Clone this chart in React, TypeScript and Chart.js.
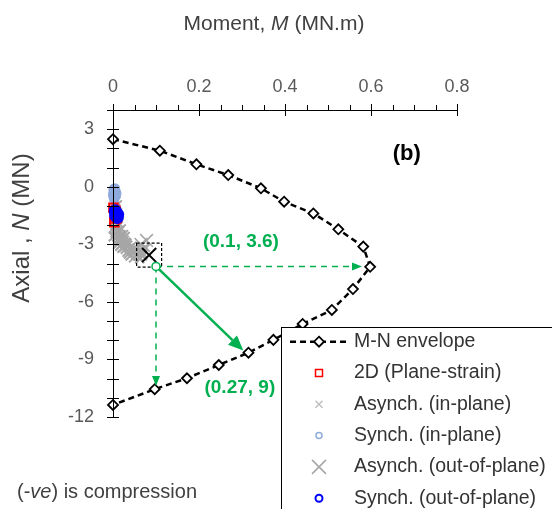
import React, { useEffect, useRef } from 'react';
import { Chart, registerables } from 'chart.js';
Chart.register(...registerables);

// ---- data ----
const envelopeM = [0, 0.109, 0.194, 0.268, 0.344, 0.398, 0.466, 0.524, 0.582, 0.598, 0.558, 0.509, 0.441, 0.373, 0.315, 0.246, 0.172, 0.097, 0];
const envelopeN = [2.48, 1.88, 1.17, 0.61, -0.08, -0.78, -1.39, -2.22, -3.12, -4.17, -5.33, -6.42, -7.15, -7.98, -8.65, -9.29, -9.98, -10.55, -11.37];

const planeStrainM = [0.001, 0.004, 0.008, 0.003, 0.010, 0.006];
const planeStrainN = [-1.1, -1.35, -1.65, -1.85, -1.55, -1.25];

const asynchInM = [0.003, 0.006, 0.010, 0.004, 0.008, 0.002, 0.005, 0.012, 0.015, 0.009, 0.018, 0.022, 0.014, 0.026, 0.020, 0.030, 0.025, 0.034, 0.029, 0.038, 0.033, 0.042, 0.036, 0.046, 0.040, 0.050, 0.055, 0.048, 0.060, 0.065, 0.058, 0.070, 0.010, 0.016, 0.001, 0.007, 0.013, 0.019, 0.024, 0.011, 0.017, 0.028, 0.032, 0.021, 0.044, 0.052, 0.062, 0.068, 0.075];
const asynchInN = [-0.55, -0.75, -0.95, -1.75, -1.95, -2.15, -2.4, -2.05, -2.3, -2.6, -2.5, -2.7, -2.85, -2.8, -3.0, -2.9, -3.15, -3.05, -3.25, -3.2, -3.4, -3.3, -3.5, -3.35, -3.6, -3.45, -3.5, -3.7, -3.4, -3.3, -3.6, -3.5, -2.8, -3.1, -2.6, -2.2, -1.9, -2.2, -2.5, -3.0, -2.75, -2.6, -2.95, -3.2, -3.1, -3.25, -3.75, -3.6, -3.15];

const synchInM = [0.002, 0.004, 0.006, 0.003, 0.005, 0.002, 0.007, 0.004, 0.001];
const synchInN = [-0.15, -0.3, -0.45, -0.6, -0.25, -0.5, -0.35, -0.1, -0.4];

const asynchOutM = [0.065, 0.078, 0.072];
const asynchOutN = [-3.0, -2.8, -3.3];

const synchOutM = [0.005, 0.008, 0.010, 0.006, 0.011, 0.007];
const synchOutN = [-1.25, -1.4, -1.6, -1.5, -1.45, -1.35];

const highlightM = [0.084];
const highlightN = [-3.56];

const seriesLabels = ['M-N envelope', '2D (Plane-strain)', 'Asynch. (in-plane)', 'Synch. (in-plane)', 'Asynch. (out-of-plane)', 'Synch. (out-of-plane)'];

// annotation arrows (data coords)
const arrowStart = [0.1, -4.15];
const arrowHorizEnd = [0.579, -4.15];
const arrowVertEnd = [0.1, -10.38];
const arrowDiagEnd = [0.303, -8.54];
const annoLabels = ['(0.1, 3.6)', '(0.27, 9)'];
const annoLabelPos = [[0.2975, -2.87], [0.295, -10.49]];
const panelLabel = '(b)';
const panelLabelPos = [0.683, 1.7];

const xTickStep = 0.05;
const yTickStep = 1;

const FONT = "'Liberation Sans', Arial, sans-serif";
const GREEN = '#00B050';

const pts = (xs: number[], ys: number[]) => xs.map((x, i) => ({ x, y: ys[i] }));

function drawArrow(ctx: CanvasRenderingContext2D, x1: number, y1: number, x2: number, y2: number, dashed: boolean, width: number, headLen: number, headW: number) {
  const ang = Math.atan2(y2 - y1, x2 - x1);
  const bx = x2 - headLen * Math.cos(ang);
  const by = y2 - headLen * Math.sin(ang);
  ctx.lineWidth = width;
  ctx.setLineDash(dashed ? [6, 5] : []);
  ctx.beginPath();
  ctx.moveTo(x1, y1);
  ctx.lineTo(bx, by);
  ctx.stroke();
  ctx.setLineDash([]);
  ctx.beginPath();
  ctx.moveTo(x2, y2);
  ctx.lineTo(bx + (headW / 2) * Math.sin(ang), by - (headW / 2) * Math.cos(ang));
  ctx.lineTo(bx - (headW / 2) * Math.sin(ang), by + (headW / 2) * Math.cos(ang));
  ctx.closePath();
  ctx.fill();
}

function drawX(ctx: CanvasRenderingContext2D, x: number, y: number, h: number) {
  ctx.beginPath();
  ctx.moveTo(x - h, y - h); ctx.lineTo(x + h, y + h);
  ctx.moveTo(x - h, y + h); ctx.lineTo(x + h, y - h);
  ctx.stroke();
}

function drawSegments(ctx: CanvasRenderingContext2D, segs: [string, boolean][], size: number, x: number, y: number, align: 'left' | 'center') {
  const fontOf = (it: boolean) => `${it ? 'italic ' : ''}${size}px ${FONT}`;
  let total = 0;
  segs.forEach(([t, it]) => { ctx.font = fontOf(it); total += ctx.measureText(t).width; });
  let cx = align === 'center' ? x - total / 2 : x;
  ctx.textAlign = 'left';
  segs.forEach(([t, it]) => { ctx.font = fontOf(it); ctx.fillText(t, cx, y); cx += ctx.measureText(t).width; });
}

const overlayPlugin = {
  id: 'overlay',
  afterDraw(chart: any) {
    const ctx: CanvasRenderingContext2D = chart.ctx;
    const xs = chart.scales.x;
    const ys = chart.scales.y;
    const ca = chart.chartArea;
    const X = (v: number) => xs.getPixelForValue(v);
    const Y = (v: number) => ys.getPixelForValue(v);
    ctx.save();

    // axis lines and tick marks
    ctx.strokeStyle = '#000';
    ctx.lineWidth = 1;
    ctx.beginPath();
    ctx.moveTo(ca.left, Math.round(ca.top) + 0.5);
    ctx.lineTo(ca.right, Math.round(ca.top) + 0.5);
    ctx.moveTo(Math.round(ca.left) + 0.5, ca.top);
    ctx.lineTo(Math.round(ca.left) + 0.5, ca.bottom);
    ctx.stroke();
    xs.ticks.forEach((t: any) => {
      const px = Math.round(X(t.value)) + 0.5;
      const r = t.value / 0.2;
      const major = Math.abs(r - Math.round(r)) < 1e-6;
      ctx.beginPath();
      ctx.moveTo(px, ca.top - (major ? 6 : 5));
      ctx.lineTo(px, ca.top + (major ? 6 : 0));
      ctx.stroke();
    });
    ys.ticks.forEach((t: any) => {
      const py = Math.round(Y(t.value)) + 0.5;
      ctx.beginPath();
      ctx.moveTo(ca.left - 6, py);
      ctx.lineTo(ca.left + 6, py);
      ctx.stroke();
    });

    // highlight dashed box
    const hx = X(highlightM[0]);
    const hy = Y(highlightN[0]);
    ctx.setLineDash([3, 2]);
    ctx.lineWidth = 1.2;
    ctx.strokeRect(hx - 12.5, hy - 12, 25, 24);
    ctx.setLineDash([]);

    // green annotations
    ctx.strokeStyle = GREEN;
    ctx.fillStyle = GREEN;
    const sx = X(arrowStart[0]), sy = Y(arrowStart[1]);
    drawArrow(ctx, sx, sy, X(arrowHorizEnd[0]), Y(arrowHorizEnd[1]), true, 1.5, 10, 8);
    drawArrow(ctx, sx, sy, X(arrowVertEnd[0]), Y(arrowVertEnd[1]), true, 1.5, 10, 8);
    drawArrow(ctx, sx, sy, X(arrowDiagEnd[0]), Y(arrowDiagEnd[1]), false, 2.5, 15, 13);
    ctx.beginPath();
    ctx.arc(sx, sy, 4, 0, Math.PI * 2);
    ctx.fillStyle = '#fff';
    ctx.fill();
    ctx.lineWidth = 1.5;
    ctx.stroke();
    ctx.fillStyle = GREEN;
    ctx.font = `bold 19px ${FONT}`;
    ctx.textAlign = 'center';
    ctx.textBaseline = 'middle';
    annoLabels.forEach((t, i) => ctx.fillText(t, X(annoLabelPos[i][0]), Y(annoLabelPos[i][1])));

    // panel label
    ctx.fillStyle = '#000';
    ctx.font = `bold 22px ${FONT}`;
    ctx.fillText(panelLabel, X(panelLabelPos[0]), Y(panelLabelPos[1]));

    // axis titles
    ctx.fillStyle = '#404040';
    ctx.textBaseline = 'middle';
    drawSegments(ctx, [['Moment, ', false], ['M', true], [' (MN.m)', false]], 21, ca.left + 161, 24, 'center');
    ctx.save();
    ctx.translate(22, 228);
    ctx.rotate(-Math.PI / 2);
    drawSegments(ctx, [['Axial , ', false], ['N', true], [' (MN)', false]], 24, 0, 0, 'center');
    ctx.restore();

    drawSegments(ctx, [['(-', false], ['ve', true], [') is compression', false]], 20, 17, 492, 'left');

    // legend
    const lx = 281, ly = 327;
    ctx.fillStyle = '#fff';
    ctx.fillRect(lx, ly, 300, 200);
    ctx.strokeStyle = '#000';
    ctx.lineWidth = 1;
    ctx.strokeRect(lx + 0.5, ly + 0.5, 300, 200);
    const mx = 319;
    chart.data.datasets.forEach((ds: any, i: number) => {
      if (i >= seriesLabels.length) return;
      const y = 341.7 + i * 31.3;
      ctx.save();
      if (i === 0) {
        ctx.strokeStyle = '#000';
        ctx.lineWidth = 2.5;
        ctx.setLineDash([6, 4]);
        ctx.beginPath(); ctx.moveTo(290, y); ctx.lineTo(350, y); ctx.stroke();
        ctx.setLineDash([]);
        ctx.lineWidth = 1.8;
        ctx.fillStyle = '#fff';
        ctx.beginPath();
        ctx.moveTo(mx, y - 5); ctx.lineTo(mx + 5, y); ctx.lineTo(mx, y + 5); ctx.lineTo(mx - 5, y); ctx.closePath();
        ctx.fill(); ctx.stroke();
      } else if (ds.pointStyle === 'rect') {
        ctx.strokeStyle = ds.pointBorderColor;
        ctx.lineWidth = 1.5;
        ctx.strokeRect(mx - 3.5, y - 3.5, 7, 7);
      } else if (ds.pointStyle === 'crossRot') {
        ctx.strokeStyle = i === 2 ? '#BFBFBF' : ds.pointBorderColor;
        ctx.lineWidth = 1.5;
        drawX(ctx, mx, y, i === 4 ? 7 : 3.5);
      } else {
        ctx.strokeStyle = ds.pointBorderColor;
        ctx.lineWidth = i === 5 ? 2 : 1.5;
        ctx.beginPath(); ctx.arc(mx, y, i === 5 ? 3.5 : 3, 0, Math.PI * 2); ctx.stroke();
      }
      ctx.restore();
      ctx.fillStyle = '#333333';
      ctx.font = `19.5px ${FONT}`;
      ctx.textAlign = 'left';
      ctx.textBaseline = 'middle';
      ctx.fillText(ds.label, 354, y);
    });

    ctx.restore();
  },
};

export default function App() {
  const ref = useRef<HTMLCanvasElement>(null);
  useEffect(() => {
    if (!ref.current) return;
    const chart = new Chart(ref.current, {
      type: 'scatter',
      data: {
        datasets: [
          {
            label: seriesLabels[0], data: pts(envelopeM, envelopeN), showLine: true,
            borderColor: '#000', borderWidth: 2.5, borderDash: [6, 4],
            pointStyle: 'rectRot', pointRadius: 5, pointBorderWidth: 1.8,
            pointBorderColor: '#000', pointBackgroundColor: '#fff', order: 0, clip: false,
          },
          {
            label: seriesLabels[1], data: pts(planeStrainM, planeStrainN),
            pointStyle: 'rect', pointRadius: 6, pointBorderWidth: 2,
            pointBorderColor: '#FF0000', pointBackgroundColor: 'rgba(0,0,0,0)', order: 3, clip: false,
          },
          {
            label: seriesLabels[2], data: pts(asynchInM, asynchInN),
            pointStyle: 'crossRot', pointRadius: 6.5, pointBorderWidth: 2,
            pointBorderColor: '#A6A6A6', pointBackgroundColor: '#A6A6A6', order: 6, clip: false,
          },
          {
            label: seriesLabels[3], data: pts(synchInM, synchInN),
            pointStyle: 'circle', pointRadius: 4.5, pointBorderWidth: 2,
            pointBorderColor: '#8FAADC', pointBackgroundColor: '#8FAADC', order: 5, clip: false,
          },
          {
            label: seriesLabels[4], data: pts(asynchOutM, asynchOutN),
            pointStyle: 'crossRot', pointRadius: 9, pointBorderWidth: 1.5,
            pointBorderColor: '#A6A6A6', pointBackgroundColor: '#A6A6A6', order: 4, clip: false,
          },
          {
            label: seriesLabels[5], data: pts(synchOutM, synchOutN),
            pointStyle: 'circle', pointRadius: 5.5, pointBorderWidth: 2,
            pointBorderColor: '#0000FF', pointBackgroundColor: '#0000FF', order: 2, clip: false,
          },
          {
            label: 'highlight', data: pts(highlightM, highlightN),
            pointStyle: 'crossRot', pointRadius: 10, pointBorderWidth: 2,
            pointBorderColor: '#000', pointBackgroundColor: '#000', order: 1, clip: false,
          },
        ],
      },
      options: {
        responsive: false,
        animation: false,
        events: [],
        layout: { padding: { left: 0, top: 0, right: 95, bottom: 92 } },
        plugins: { legend: { display: false }, tooltip: { enabled: false } },
        scales: {
          x: {
            type: 'linear', position: 'top', min: 0, max: 0.8,
            afterFit: (s: any) => { s.height = 110; },
            border: { display: false },
            grid: { display: false, drawOnChartArea: false, drawTicks: false },
            ticks: {
              stepSize: xTickStep, autoSkip: false, maxRotation: 0, padding: 12,
              color: '#595959', font: { family: FONT, size: 18 },
              callback: (v: any) => {
                const r = Number(v) / 0.2;
                if (Math.abs(r - Math.round(r)) > 1e-6) return '';
                return String(Math.round(Number(v) * 10) / 10);
              },
            },
          },
          y: {
            type: 'linear', position: 'left', min: -12, max: 4,
            afterFit: (s: any) => { s.width = 113; },
            border: { display: false },
            grid: { display: false, drawOnChartArea: false, drawTicks: false },
            ticks: {
              stepSize: yTickStep, autoSkip: false, padding: 19,
              color: '#595959', font: { family: FONT, size: 18 },
              callback: (v: any) => (Math.round(Number(v)) % 3 === 0 ? String(Math.round(Number(v))) : ''),
            },
          },
        },
      } as any,
      plugins: [overlayPlugin],
    });
    return () => chart.destroy();
  }, []);
  return (
    <div style={{ position: 'absolute', left: 0, top: 0, width: 552, height: 509, background: '#fff' }}>
      <canvas ref={ref} width={552} height={509} style={{ display: 'block' }} />
    </div>
  );
}
